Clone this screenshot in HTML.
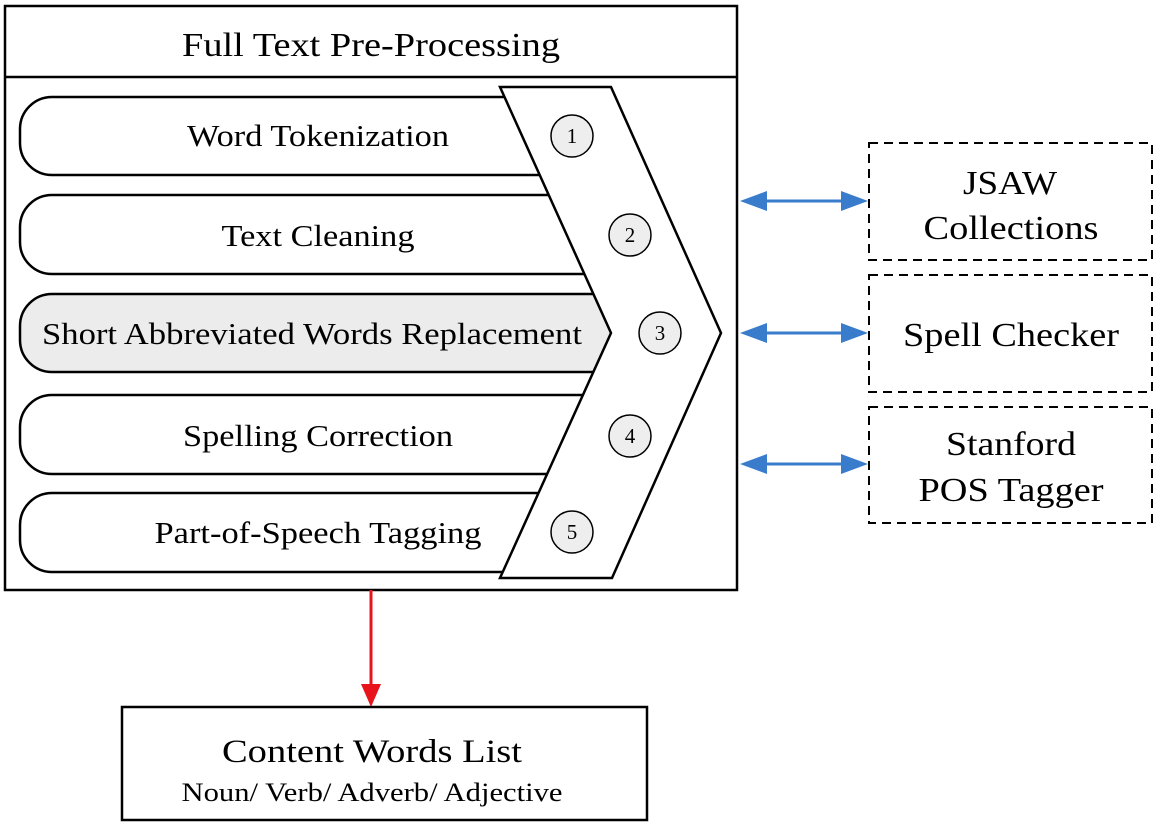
<!DOCTYPE html>
<html><head><style>body{margin:0;background:#fff}</style></head><body>
<svg width="1155" height="833" viewBox="0 0 1155 833" xmlns="http://www.w3.org/2000/svg" font-family="Liberation Serif, serif">
<defs>
<clipPath id="c"><polygon points="0,0 500,0 500,87 611,333 500,578 500,833 0,833"/></clipPath>
</defs>
<rect x="5" y="6" width="732" height="584" fill="#fff" stroke="#000" stroke-width="2.5"/>
<line x1="5" y1="77" x2="737" y2="77" stroke="#000" stroke-width="2.5"/>
<text x="371" y="56" font-size="34" text-anchor="middle" textLength="378" lengthAdjust="spacingAndGlyphs">Full Text Pre-Processing</text>
<g stroke="#000" stroke-width="2.5" clip-path="url(#c)">
<rect x="20" y="97" width="640" height="78" rx="32" fill="#fff"/>
<rect x="20" y="195" width="640" height="79" rx="32" fill="#fff"/>
<rect x="20" y="294" width="640" height="78" rx="32" fill="#ececec"/>
<rect x="20" y="395" width="640" height="79" rx="32" fill="#fff"/>
<rect x="20" y="493" width="640" height="79" rx="32" fill="#fff"/>
</g>
<polygon points="500,87 611,87 721,333 612,578 500,578 611,333" fill="none" stroke="#000" stroke-width="2.5" stroke-linejoin="miter"/>
<g font-size="31" text-anchor="middle" lengthAdjust="spacingAndGlyphs">
<text x="318" y="146" textLength="262" lengthAdjust="spacingAndGlyphs">Word Tokenization</text>
<text x="318" y="246" textLength="193" lengthAdjust="spacingAndGlyphs">Text Cleaning</text>
<text x="312" y="344" textLength="540" lengthAdjust="spacingAndGlyphs">Short Abbreviated Words Replacement</text>
<text x="318" y="446" textLength="270" lengthAdjust="spacingAndGlyphs">Spelling Correction</text>
<text x="318" y="543" textLength="327" lengthAdjust="spacingAndGlyphs">Part-of-Speech Tagging</text>
</g>
<g fill="#eee" stroke="#000" stroke-width="1.5">
<circle cx="572" cy="136" r="21"/><circle cx="630" cy="235" r="21"/><circle cx="660" cy="333" r="21"/><circle cx="630" cy="436" r="21"/><circle cx="572" cy="532" r="21"/>
</g>
<g font-size="21" text-anchor="middle">
<text x="572" y="143">1</text><text x="630" y="242">2</text><text x="660" y="340">3</text><text x="630" y="443">4</text><text x="572" y="539">5</text>
</g>
<g fill="none" stroke="#000" stroke-width="2" stroke-dasharray="9,6">
<rect x="869" y="143" width="283" height="117"/>
<rect x="869" y="275" width="283" height="117"/>
<rect x="869" y="407" width="283" height="116"/>
</g>
<g font-size="34" text-anchor="middle">
<text x="1010" y="194" textLength="94" lengthAdjust="spacingAndGlyphs">JSAW</text>
<text x="1011" y="239" textLength="175" lengthAdjust="spacingAndGlyphs">Collections</text>
<text x="1011" y="346" textLength="216" lengthAdjust="spacingAndGlyphs">Spell Checker</text>
<text x="1011" y="455" textLength="130" lengthAdjust="spacingAndGlyphs">Stanford</text>
<text x="1011" y="501" textLength="185" lengthAdjust="spacingAndGlyphs">POS Tagger</text>
</g>
<g fill="#3a7ccc" stroke="#3a7ccc">
<line x1="760" y1="201" x2="848" y2="201" stroke-width="3"/>
<polygon points="740,201 767,191 767,211" stroke="none"/><polygon points="868,201 841,191 841,211" stroke="none"/>
<line x1="760" y1="333" x2="848" y2="333" stroke-width="3"/>
<polygon points="740,333 767,323 767,343" stroke="none"/><polygon points="868,333 841,323 841,343" stroke="none"/>
<line x1="760" y1="464" x2="848" y2="464" stroke-width="3"/>
<polygon points="740,464 767,454 767,474" stroke="none"/><polygon points="868,464 841,454 841,474" stroke="none"/>
</g>
<line x1="371" y1="590" x2="371" y2="688" stroke="#e8141c" stroke-width="3"/>
<polygon points="371,707 361,684 381,684" fill="#e8141c"/>
<rect x="122" y="707" width="525" height="113" fill="#fff" stroke="#000" stroke-width="2.5"/>
<text x="372" y="762" font-size="33" text-anchor="middle" textLength="300" lengthAdjust="spacingAndGlyphs">Content Words List</text>
<text x="372" y="801" font-size="26" text-anchor="middle" textLength="381" lengthAdjust="spacingAndGlyphs">Noun/ Verb/ Adverb/ Adjective</text>
</svg>
</body></html>
